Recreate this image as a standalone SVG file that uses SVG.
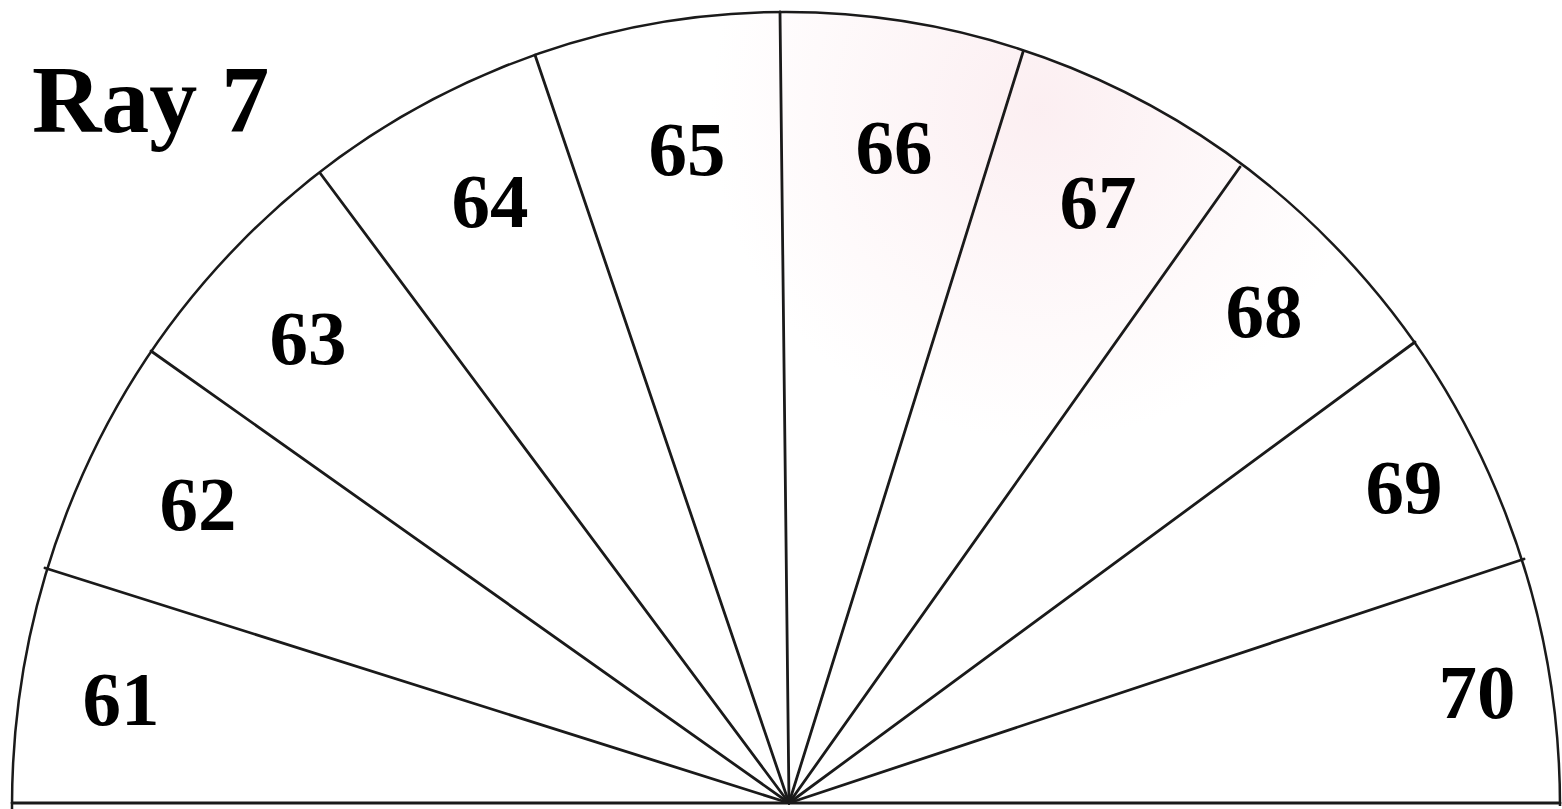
<svg xmlns="http://www.w3.org/2000/svg" width="1562" height="809" viewBox="0 0 1562 809">
<style>
.arc{fill:none;stroke:#1a1a1a;stroke-width:2.5}
.spoke{stroke:#1a1a1a;stroke-width:2.8;stroke-linecap:round}
.lbl{font-family:"Liberation Serif","Times New Roman",serif;font-weight:bold;font-size:77px;fill:#000;text-anchor:middle}
.title{font-family:"Liberation Serif","Times New Roman",serif;font-weight:bold;font-size:96px;fill:#000}
</style>
<defs>
<radialGradient id="pink" cx="1040" cy="110" r="330" gradientUnits="userSpaceOnUse">
<stop offset="0" stop-color="#f9e1e6" stop-opacity="0.55"/>
<stop offset="1" stop-color="#f9e1e6" stop-opacity="0"/>
</radialGradient>
<clipPath id="semi"><path d="M12,806 A774,794 0 0 1 1560,806 Z"/></clipPath>
</defs>
<rect width="1562" height="809" fill="#fff"/>
<g clip-path="url(#semi)"><rect x="700" y="0" width="760" height="450" fill="url(#pink)"/></g>
<g id="outline">
<path class="arc" d="M12,809 L12,806 A774,794 0 0 1 1560,806"/>
<line class="spoke" x1="12" y1="803" x2="1560" y2="803"/>
</g>
<g id="connectors">
<line class="spoke" x1="789" y1="803" x2="45" y2="568"/>
<line class="spoke" x1="789" y1="803" x2="151" y2="351"/>
<line class="spoke" x1="789" y1="803" x2="320" y2="173"/>
<line class="spoke" x1="789" y1="803" x2="535" y2="55"/>
<line class="spoke" x1="789" y1="803" x2="780" y2="12"/>
<line class="spoke" x1="789" y1="803" x2="1023" y2="52"/>
<line class="spoke" x1="789" y1="803" x2="1240" y2="167"/>
<line class="spoke" x1="789" y1="803" x2="1415" y2="342"/>
<line class="spoke" x1="789" y1="803" x2="1524" y2="559"/>
</g>
<g id="title"><text class="title" x="32" y="132">Ray 7</text></g>
<g id="s61"><text class="lbl" x="121" y="725">61</text></g>
<g id="s62"><text class="lbl" x="198" y="530">62</text></g>
<g id="s63"><text class="lbl" x="308" y="364">63</text></g>
<g id="s64"><text class="lbl" x="490" y="227">64</text></g>
<g id="s65"><text class="lbl" x="687" y="175">65</text></g>
<g id="s66"><text class="lbl" x="894" y="173">66</text></g>
<g id="s67"><text class="lbl" x="1098" y="228">67</text></g>
<g id="s68"><text class="lbl" x="1264" y="337">68</text></g>
<g id="s69"><text class="lbl" x="1404" y="513">69</text></g>
<g id="s70"><text class="lbl" x="1477" y="718">70</text></g>
</svg>
